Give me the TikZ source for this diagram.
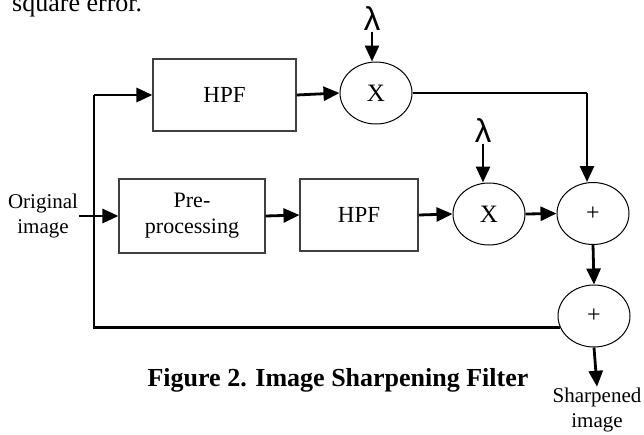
\documentclass[tikz,border=0pt]{standalone}
\usepackage{fontspec}
\setmainfont{Liberation Serif}
\newfontfamily\lamfont{Liberation Sans}
\usetikzlibrary{arrows.meta,shapes.geometric}

\begin{document}
\begin{tikzpicture}[x=1pt,y=-1pt,
    block/.style={draw=black!75,line width=1.1pt,rectangle,inner sep=0pt,font=\fontsize{23}{26}\selectfont},
    oper/.style={draw,line width=1pt,ellipse,inner sep=0pt,minimum width=72pt,minimum height=62pt},
    txt/.style={font=\fontsize{21}{25}\selectfont,align=center,inner sep=1pt},
    lam/.style={font=\lamfont\fontsize{33}{34}\selectfont,inner sep=0.5pt},
    arr/.style={line width=2.8pt,-{Triangle[length=16pt,width=14pt]}},
    wire/.style={line width=2.4pt}]
    \useasboundingbox (0,0) rectangle (644,434);
    \clip (0,0) rectangle (644,434);
    \node[anchor=base west,inner sep=0pt,font=\fontsize{26}{30}\selectfont] (prev) at (12,11) {square error.};

    \node[block,minimum width=143pt,minimum height=72pt] (hpfa) at (224.5,95) {HPF};
    \node[oper,font=\fontsize{25}{30}\selectfont] (multa) at (376,93) {X};
    \node[block,minimum width=146pt,minimum height=74pt,align=center,font=\fontsize{22}{26}\selectfont] (pre) at (192,216) {Pre-\\processing};
    \node[block,minimum width=118pt,minimum height=72pt] (hpfb) at (359,215) {HPF};
    \node[oper,font=\fontsize{25}{30}\selectfont] (multb) at (489,214) {X};
    \node[oper,font=\fontsize{24}{28}\selectfont] (suma) at (593,213.5) {+};
    \node[oper,font=\fontsize{24}{28}\selectfont] (sumb) at (594,316) {+};
    \node[lam] (lama) at (372,19) {λ};
    \node[lam] (lamb) at (483,131) {λ};
    \node[txt] (orig) at (43,216) {Original\\image};
    \node[txt] (sharp) at (597,410) {Sharpened\\image};
    \node[font=\bfseries\fontsize{26}{30}\selectfont] (cap) at (338,380) {Figure 2. Image Sharpening Filter};

    \coordinate (split) at (94,95);
    \coordinate (turn) at (587,93);

    \draw[arr] (split) -- (hpfa.west);
    \draw[wire] (split) |- (sumb.199);
    \draw[arr] (hpfa.east) -- (multa.west);
    \draw[arr] (lama) -- (lama |- multa.north);
    \draw[wire] (multa.east) -- (turn);
    \draw[arr] (turn) -- (turn |- suma.north);
    \draw[arr] (orig.east) -- (pre.west);
    \draw[arr] (pre.east) -- (hpfb.west);
    \draw[arr] (hpfb.east) -- (multb.west);
    \draw[arr] (lamb) -- (lamb |- multb.north);
    \draw[arr] (multb.east) -- (suma.west);
    \draw[arr] (suma.south) -- (sumb.north);
    \draw[arr] (sumb.south) -- (sharp.north);
\end{tikzpicture}
\end{document}
